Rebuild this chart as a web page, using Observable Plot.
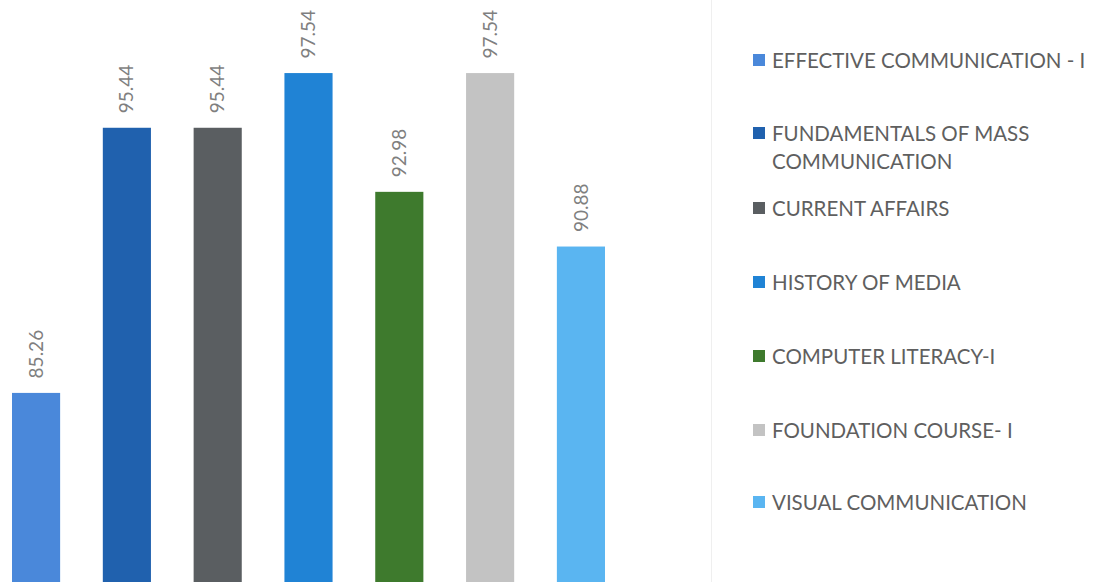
<!DOCTYPE html>
<html>
<head>
<meta charset="utf-8">
<script src="https://cdn.jsdelivr.net/npm/d3@7"></script>
<script src="https://cdn.jsdelivr.net/npm/@observablehq/plot@0.6"></script>
<style>
  html, body { margin: 0; padding: 0; background: #fff; }
  #wrap { position: relative; width: 1096px; height: 582px; overflow: hidden; font-family: Lato, "Open Sans", sans-serif; }
  #chart { position: absolute; left: 0; top: 0; }
  #sep { position: absolute; left: 711px; top: 0; width: 1px; height: 582px; background: #efefef; }
  .item { position: absolute; left: 753px; display: flex; align-items: flex-start; }
  .sw { width: 12px; height: 12px; margin-top: -6px; margin-right: 7px; flex: none; }
  .lab { font-size: 20.5px; color: #5f5f5f; line-height: 28px; margin-top: -14px; width: 330px; }
</style>
</head>
<body>
<div id="wrap">
  <div id="chart"></div>
  <div id="sep"></div>
  <div id="legend"></div>
</div>
<script>
const subjects = [
  "EFFECTIVE COMMUNICATION - I",
  "FUNDAMENTALS OF MASS COMMUNICATION",
  "CURRENT AFFAIRS",
  "HISTORY OF MEDIA",
  "COMPUTER LITERACY-I",
  "FOUNDATION COURSE- I",
  "VISUAL COMMUNICATION"
];
const scores = [85.26, 95.44, 95.44, 97.54, 92.98, 97.54, 90.88];
const colors = ["#4a88da", "#2061ae", "#5a5e61", "#2083d5", "#3e7a2d", "#c3c3c3", "#5ab5f1"];
const legendTops = [60, 133, 208, 282, 356, 430, 502];

const data = subjects.map((s, i) => ({subject: s, score: scores[i]}));

const chart = Plot.plot({
  width: 712,
  height: 582,
  marginLeft: 12,
  marginRight: 107,
  marginTop: 9,
  marginBottom: 0,
  style: {fontFamily: "Lato, 'Open Sans', sans-serif", background: "transparent"},
  x: {domain: subjects, paddingInner: 0.47, paddingOuter: 0, round: false, axis: null},
  y: {domain: [78, 100], axis: null},
  color: {domain: subjects, range: colors},
  marks: [
    Plot.barY(data, {x: "subject", y1: 78, y2: "score", fill: "subject"}),
    Plot.text(data, {
      x: "subject", y: "score",
      text: d => d.score.toFixed(2),
      rotate: -90, textAnchor: "start", lineAnchor: "middle",
      dy: -15, fontSize: 19, fill: "#7f7f7f"
    })
  ]
});
document.getElementById("chart").appendChild(chart);

const legend = document.getElementById("legend");
subjects.forEach((s, i) => {
  const item = document.createElement("div");
  item.className = "item";
  item.style.top = legendTops[i] + "px";
  const sw = document.createElement("div");
  sw.className = "sw";
  sw.style.background = colors[i];
  const lab = document.createElement("div");
  lab.className = "lab";
  lab.textContent = s;
  item.appendChild(sw);
  item.appendChild(lab);
  legend.appendChild(item);
});
</script>
</body>
</html>
